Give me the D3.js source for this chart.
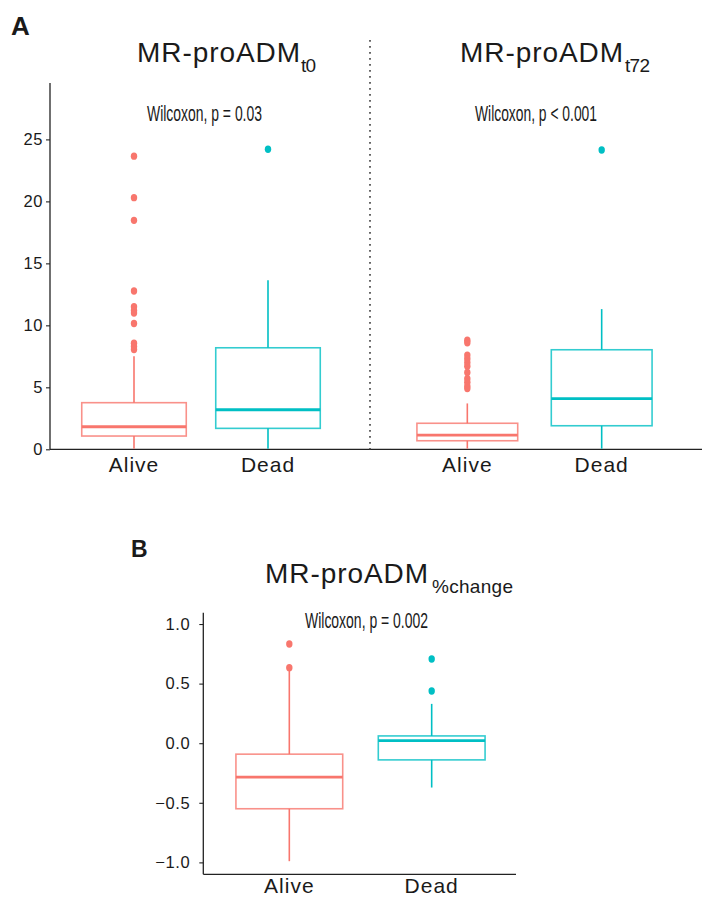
<!DOCTYPE html>
<html>
<head>
<meta charset="utf-8">
<script src="https://cdn.jsdelivr.net/npm/d3@7"></script>
<style>
  html, body { margin: 0; padding: 0; background: #fff; }
  svg { display: block; }
  text { font-family: "Liberation Sans", Arial, sans-serif; fill: #1a1a1a; }
</style>
</head>
<body>
<svg id="chart" width="718" height="905"></svg>
<script>
// ---------------- DATA ----------------
const groups = ["Alive", "Dead"];
const statKeys = ["lo", "q1", "med", "q3", "hi"];

// box stats [lower whisker, Q1, median, Q3, upper whisker] per group
const t0Stats = [[0.05, 1.07, 1.82, 3.76, 7.5], [0.05, 1.69, 3.19, 8.19, 13.63]];
const t0Outliers = [[23.65, 20.3, 18.47, 12.77, 11.5, 11.2, 11.0, 10.15, 8.55, 8.3, 8.05], [24.2]];

const t72Stats = [[0.05, 0.69, 1.15, 2.1, 3.7], [0.05, 1.9, 4.08, 8.03, 11.31]];
const t72Outliers = [[8.8, 8.6, 7.6, 7.3, 7.0, 6.7, 6.2, 5.7, 5.4, 5.1, 4.9], [24.14]];

const chgStats = [[-0.99, -0.55, -0.285, -0.092, 0.634], [-0.372, -0.14, 0.022, 0.061, 0.33]];
const chgOutliers = [[0.832, 0.634], [0.707, 0.438]];

const ticksA = [0, 5, 10, 15, 20, 25];
const ticksB = [-1.0, -0.5, 0.0, 0.5, 1.0];

const pTexts = ["Wilcoxon, p = 0.03", "Wilcoxon, p < 0.001", "Wilcoxon, p = 0.002"];
const colors = ["#F8766D", "#00BFC4"];

// ---------------- DRAW ----------------
const svg = d3.select("#chart");
const color = d3.scaleOrdinal().domain(groups).range(colors);

const yA = d3.scaleLinear().domain([0, 29.55]).range([449.3, 83]);
const yB = d3.scaleLinear().domain([-1.10, 1.095]).range([874.3, 612.7]);

const xA1 = d3.scalePoint().domain(groups).range([53.6, 348.4]).padding(0.6);
const xA2 = d3.scalePoint().domain(groups).range([386.7, 682.3]).padding(0.6);
const xB = d3.scalePoint().domain(groups).range([203.9, 517.1]).padding(0.6);

function drawBoxes(g, x, y, stats, outliers, widthFrac) {
  const bw = x.step() * widthFrac;
  groups.forEach((grp, i) => {
    const s = {};
    statKeys.forEach((k, j) => s[k] = stats[i][j]);
    const cx = x(grp);
    const c = color(grp);
    const bg = g.append("g");
    bg.append("line").attr("x1", cx).attr("x2", cx)
      .attr("y1", y(s.q3)).attr("y2", y(s.hi))
      .attr("stroke", c).attr("stroke-width", 1.6);
    bg.append("line").attr("x1", cx).attr("x2", cx)
      .attr("y1", y(s.q1)).attr("y2", y(s.lo))
      .attr("stroke", c).attr("stroke-width", 1.6);
    bg.append("rect")
      .attr("x", cx - bw / 2).attr("width", bw)
      .attr("y", y(s.q3)).attr("height", y(s.q1) - y(s.q3))
      .attr("fill", "none").attr("stroke", c).attr("stroke-opacity", 0.8)
      .attr("stroke-width", 1.6);
    bg.append("line")
      .attr("x1", cx - bw / 2).attr("x2", cx + bw / 2)
      .attr("y1", y(s.med)).attr("y2", y(s.med))
      .attr("stroke", c).attr("stroke-width", 2.8);
    bg.selectAll("ellipse.o").data(outliers[i]).enter().append("ellipse")
      .attr("cx", cx).attr("cy", d => y(d))
      .attr("rx", 3.2).attr("ry", 3.7)
      .attr("fill", c);
  });
}

function yAxis(g, y, ticks, fmt, xPos, pad) {
  const ax = d3.axisLeft(y).tickValues(ticks).tickFormat(fmt).tickSize(4).tickPadding(pad);
  const a = g.append("g").attr("transform", `translate(${xPos},0)`).call(ax);
  a.select(".domain").remove();
  a.selectAll(".tick line").attr("stroke", "#222").attr("stroke-width", 1.1);
  a.selectAll(".tick text").attr("font-size", 16.5).attr("fill", "#222")
    .attr("font-family", "Liberation Sans, Arial, sans-serif")
    .attr("letter-spacing", 0.6);
  return a;
}

// ---------- Panel A ----------
const gA = svg.append("g");
gA.append("line").attr("x1", 50).attr("x2", 50).attr("y1", yA.range()[1]).attr("y2", yA.range()[0])
  .attr("stroke", "#222").attr("stroke-width", 1.3);
gA.append("line").attr("x1", 50).attr("x2", 702).attr("y1", yA(0)).attr("y2", yA(0))
  .attr("stroke", "#222").attr("stroke-width", 1.3);
yAxis(gA, yA, ticksA, d3.format("d"), 50, 3);

gA.append("line").attr("x1", 370).attr("x2", 370).attr("y1", 40).attr("y2", yA(0))
  .attr("stroke", "#555").attr("stroke-width", 1.8).attr("stroke-dasharray", "1.8,4.2");

drawBoxes(gA, xA1, yA, t0Stats, t0Outliers, 0.78);
drawBoxes(gA, xA2, yA, t72Stats, t72Outliers, 0.75);

[xA1, xA2].forEach(x => {
  gA.selectAll(null).data(groups).enter().append("text")
    .attr("x", d => x(d)).attr("y", 472)
    .attr("text-anchor", "middle").attr("font-size", 21).attr("letter-spacing", 1)
    .text(d => d);
});

gA.append("text").attr("x", 11).attr("y", 35).attr("font-size", 26).attr("font-weight", "bold").text("A");
function title(g, x, y, len, sub, subX, subLen) {
  g.append("text").attr("x", x).attr("y", y).attr("font-size", 28)
    .attr("textLength", len).attr("lengthAdjust", "spacing").text("MR-proADM");
  g.append("text").attr("x", subX).attr("y", y + 10).attr("font-size", 19)
    .attr("textLength", subLen).attr("lengthAdjust", "spacing").text(sub);
}
title(gA, 137, 62, 163, "t0", 301, 15);
title(gA, 460, 62, 163, "t72", 625, 25);

function pText(g, x, y, len, t) {
  g.append("text").attr("x", x).attr("y", y)
    .attr("font-family", "'Liberation Sans Narrow', 'Arial Narrow', 'Liberation Sans', sans-serif")
    .attr("font-size", 21.5).attr("textLength", len).attr("lengthAdjust", "spacingAndGlyphs")
    .text(t);
}
pText(gA, 147, 121, 115, pTexts[0]);
pText(gA, 475, 121, 122, pTexts[1]);

// ---------- Panel B ----------
const gB = svg.append("g");
gB.append("line").attr("x1", 203.3).attr("x2", 203.3).attr("y1", yB.range()[1]).attr("y2", yB.range()[0])
  .attr("stroke", "#222").attr("stroke-width", 1.3);
gB.append("line").attr("x1", 203.3).attr("x2", 516).attr("y1", yB.range()[0]).attr("y2", yB.range()[0])
  .attr("stroke", "#222").attr("stroke-width", 1.3);
yAxis(gB, yB, ticksB, d => d3.format(".1f")(d).replace("-", "\u2212"), 203.3, 9);

drawBoxes(gB, xB, yB, chgStats, chgOutliers, 0.75);

gB.selectAll(null).data(groups).enter().append("text")
  .attr("x", d => xB(d)).attr("y", 893)
  .attr("text-anchor", "middle").attr("font-size", 21).attr("letter-spacing", 1)
  .text(d => d);

gB.append("text").attr("x", 131).attr("y", 557).attr("font-size", 23).attr("font-weight", "bold").text("B");
title(gB, 265, 583, 163, "%change", 432, 81);
pText(gB, 305, 628, 123, pTexts[2]);
</script>
</body>
</html>
